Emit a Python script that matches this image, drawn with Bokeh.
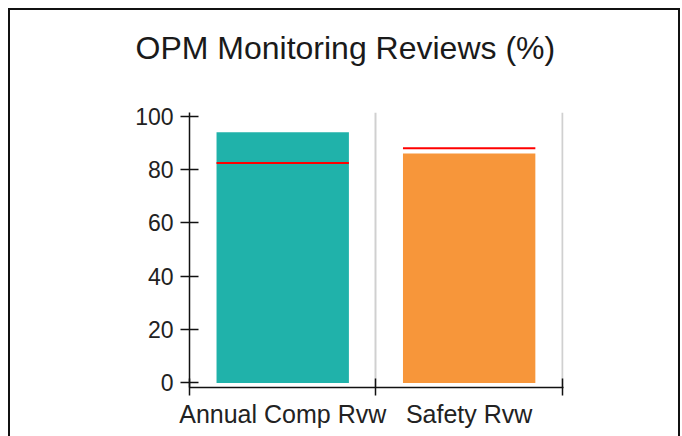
from bokeh.plotting import figure
from bokeh.models import Range1d, FixedTicker, Title
from bokeh.embed import file_html
from bokeh.resources import INLINE

# ---- data ----
categories = ["Annual Comp Rvw", "Safety Rvw"]
values = [94, 86]
targets = [82.5, 88]
colors = ["#20B2AA", "#F7963A"]
y_ticks = [0, 20, 40, 60, 80, 100]
title_text = "OPM Monitoring Reviews (%)"

n = len(categories)
centers = [i + 0.5 for i in range(n)]
bounds = [float(i) for i in range(n + 1)]

FONT = "Liberation Sans"

p = figure(width=672, height=428, output_backend="svg", toolbar_location=None,
           title=None,
           x_range=Range1d(0, n + 0.006), y_range=Range1d(-1.7, 101.4),
           min_border_left=179, min_border_right=119,
           min_border_top=102, min_border_bottom=51)
p.styles = {"margin-left": "8px", "margin-top": "8px",
            "border-top": "2px solid #111", "border-left": "2px solid #111",
            "border-right": "2px solid #111"}
p.outline_line_color = None
p.background_fill_color = "white"
p.border_fill_color = "white"

p.vbar(x=centers, top=values, bottom=0, width=0.71, fill_color=colors,
       line_color=None)
p.rect(x=centers, y=targets, width=0.71, height=2, height_units="screen",
       fill_color="#FF0000", line_color=None)

# spacer between title and plot frame (closest to frame), then the title
spacer = Title(text=" ", text_font_size="1px", standoff=44)
p.add_layout(spacer, "above")
t = Title(text=title_text, align="left", offset=-54, vertical_align="bottom",
          text_font=FONT, text_font_size="32px", text_font_style="normal",
          text_color="#1a1a1a", standoff=0)
p.add_layout(t, "above")

# x axis
xa = p.xaxis[0]
xa.ticker = FixedTicker(ticks=centers, minor_ticks=bounds)
xa.major_label_overrides = {c: lab for c, lab in zip(centers, categories)}
xa.major_tick_line_color = None
xa.minor_tick_in = 9
xa.minor_tick_out = 8
xa.minor_tick_line_color = "#111111"
xa.minor_tick_line_width = 1.5
xa.axis_line_color = "#111111"
xa.axis_line_width = 1.5
xa.major_label_text_font = FONT
xa.major_label_text_font_size = "25px"
xa.major_label_text_color = "#222222"
xa.major_label_standoff = 4

# y axis
ya = p.yaxis[0]
ya.ticker = FixedTicker(ticks=y_ticks)
ya.major_tick_in = 9
ya.major_tick_out = 9
ya.minor_tick_line_color = None
ya.major_tick_line_color = "#111111"
ya.major_tick_line_width = 1.5
ya.axis_line_color = "#111111"
ya.axis_line_width = 1.5
ya.major_label_text_font = FONT
ya.major_label_text_font_size = "23px"
ya.major_label_text_color = "#222222"
ya.major_label_standoff = 7

# grids
p.xgrid.ticker = FixedTicker(ticks=bounds[1:])
p.xgrid.grid_line_color = "#D0D0D0"
p.xgrid.grid_line_width = 2
p.ygrid.grid_line_color = None

open("out.html", "w").write(file_html(p, INLINE))
